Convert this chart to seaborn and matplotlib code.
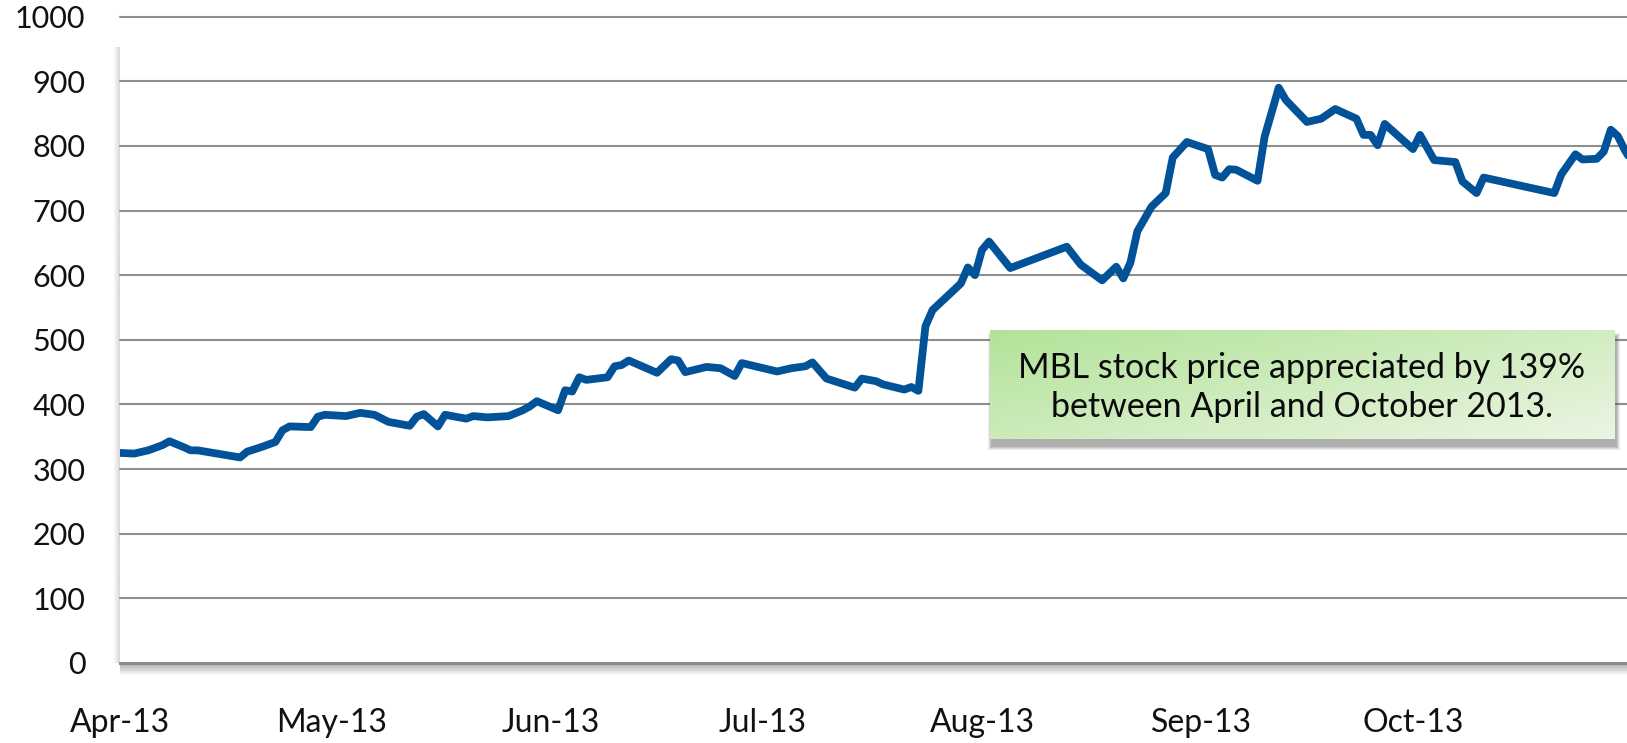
import numpy as np
import pandas as pd
import matplotlib
matplotlib.use("Agg")
import matplotlib.pyplot as plt
import seaborn as sns
from matplotlib.patches import Rectangle

# ---------------- data ----------------
dates = [
    "2013-04-01", "2013-04-03", "2013-04-05", "2013-04-07", "2013-04-08", "2013-04-10",
    "2013-04-11", "2013-04-12", "2013-04-18", "2013-04-19", "2013-04-21", "2013-04-23",
    "2013-04-24", "2013-04-25", "2013-04-28", "2013-04-29", "2013-04-30", "2013-05-03",
    "2013-05-05", "2013-05-07", "2013-05-09", "2013-05-12", "2013-05-13", "2013-05-14",
    "2013-05-16", "2013-05-17", "2013-05-20", "2013-05-21", "2013-05-23", "2013-05-26",
    "2013-05-28", "2013-05-29", "2013-05-30", "2013-06-02", "2013-06-03", "2013-06-04",
    "2013-06-05", "2013-06-06", "2013-06-09", "2013-06-10", "2013-06-11", "2013-06-12",
    "2013-06-16", "2013-06-18", "2013-06-19", "2013-06-20", "2013-06-23", "2013-06-25",
    "2013-06-27", "2013-06-28", "2013-07-03", "2013-07-05", "2013-07-07", "2013-07-08",
    "2013-07-10", "2013-07-14", "2013-07-15", "2013-07-17", "2013-07-18", "2013-07-21",
    "2013-07-22", "2013-07-23", "2013-07-24", "2013-07-25", "2013-07-29", "2013-07-30",
    "2013-07-31", "2013-08-01", "2013-08-02", "2013-08-05", "2013-08-13", "2013-08-15",
    "2013-08-18", "2013-08-20", "2013-08-21", "2013-08-22", "2013-08-23", "2013-08-25",
    "2013-08-27", "2013-08-28", "2013-08-30", "2013-09-02", "2013-09-03", "2013-09-04",
    "2013-09-05", "2013-09-06", "2013-09-09", "2013-09-10", "2013-09-12", "2013-09-13",
    "2013-09-16", "2013-09-18", "2013-09-20", "2013-09-23", "2013-09-24", "2013-09-25",
    "2013-09-26", "2013-09-27", "2013-10-01", "2013-10-02", "2013-10-04", "2013-10-07",
    "2013-10-08", "2013-10-10", "2013-10-11", "2013-10-21", "2013-10-22", "2013-10-24",
    "2013-10-25", "2013-10-27", "2013-10-28", "2013-10-29", "2013-10-30", "2013-10-31",
    "2013-11-01",
]
prices = [
    325, 324, 329, 337, 343, 334,
    329, 329, 318, 327, 334, 342,
    360, 366, 365, 381, 384, 382,
    387, 384, 373, 367, 381, 385,
    366, 384, 378, 382, 380, 382,
    391, 397, 405, 391, 422, 420,
    442, 438, 442, 459, 461, 468,
    449, 470, 468, 450, 458, 456,
    444, 464, 451, 456, 459, 465,
    440, 426, 440, 436, 431, 423,
    427, 421, 521, 546, 587, 612,
    600, 639, 652, 611, 644, 616,
    592, 613, 595, 619, 668, 706,
    727, 782, 806, 795, 755, 751,
    764, 763, 746, 814, 890, 871,
    837, 842, 857, 842, 817, 817,
    801, 834, 795, 817, 778, 775,
    745, 727, 751, 727, 756, 787,
    779, 780, 791, 825, 815, 793,
    775,
]
month_starts = ["2013-04-01", "2013-05-01", "2013-06-01", "2013-07-01",
                "2013-08-01", "2013-09-01", "2013-10-01"]
month_labels = ["Apr-13", "May-13", "Jun-13", "Jul-13", "Aug-13", "Sep-13", "Oct-13"]
y_ticks = [0, 100, 200, 300, 400, 500, 600, 700, 800, 900, 1000]
note_lines = ["MBL stock price appreciated by 139%", "between April and October 2013."]

df = pd.DataFrame({"date": pd.to_datetime(dates), "price": prices})

# ---------------- style ----------------
sns.set_style("white")
plt.rcParams["font.family"] = ["Lato", "DejaVu Sans"]

W, H = 1627, 743
fig = plt.figure(figsize=(W / 100, H / 100), dpi=100)
fig.patch.set_facecolor("white")

left_px, right_px, top_px, bottom_px = 120, 1632, 16.6, 663
ax = fig.add_axes([left_px / W, (H - bottom_px) / H,
                   (right_px - left_px) / W, (bottom_px - top_px) / H])
ax.set_facecolor("white")

# gridlines
for yv in y_ticks[1:]:
    ax.axhline(yv, color="#8e8e8e", lw=1.5, zorder=1, clip_on=False)

sns.lineplot(data=df, x="date", y="price", ax=ax, color="#015299",
             linewidth=5.6, zorder=3, solid_joinstyle="round")

ax.set_xlim(pd.Timestamp("2013-04-01"), pd.Timestamp("2013-11-01"))
ax.set_ylim(0, 1000)
ax.set_xlabel("")
ax.set_ylabel("")

ax.set_yticks(y_ticks)
ax.set_yticklabels([str(v) for v in y_ticks], fontsize=22, color="#111111")
ax.set_xticks(pd.to_datetime(month_starts))
ax.set_xticklabels(month_labels, fontsize=23, color="#111111")

ax.tick_params(axis="y", length=0, pad=25)
ax.tick_params(axis="x", direction="out", length=8.5, width=1.3,
               color="#9a9a9a", pad=24)

for s in ["top", "right", "left"]:
    ax.spines[s].set_visible(False)
ax.spines["bottom"].set_color("#8a8a8a")
ax.spines["bottom"].set_linewidth(2.2)
ax.spines["bottom"].set_zorder(4)

# shadow under the x axis
sh = fig.add_axes([left_px / W, (H - 676) / H, (right_px - left_px) / W, 12 / H], zorder=-1)
grad = np.zeros((20, 2, 4))
grad[..., :3] = 0.55
grad[..., 3] = np.linspace(0.65, 0.0, 20)[:, None]
sh.imshow(grad, aspect="auto", extent=[0, 1, 0, 1], interpolation="bilinear")
sh.axis("off")

# soft shadow on left of plot area
lsh = fig.add_axes([(left_px - 7) / W, (H - bottom_px) / H, 7 / W, (bottom_px - top_px - 30) / H], zorder=-1)
g2 = np.zeros((2, 20, 4))
g2[..., :3] = 0.6
g2[..., 3] = np.linspace(0.0, 0.45, 20)[None, :]
lsh.imshow(g2, aspect="auto", extent=[0, 1, 0, 1], interpolation="bilinear")
lsh.axis("off")

# ---------------- annotation box ----------------
bx0, bx1, by0, by1 = 990, 1614, 330, 439
# shadow
for i, a in enumerate([0.10, 0.12, 0.15, 0.2]):
    grow = 4 - i
    fig.patches.append(Rectangle(((bx0 + 2 - grow) / W, (H - by1 - 7 - grow) / H),
                                 (bx1 - bx0 + 2 * grow) / W, (by1 - by0 + 2 * grow) / H,
                                 transform=fig.transFigure, facecolor="#555555",
                                 edgecolor="none", alpha=a, zorder=5))
box = fig.add_axes([bx0 / W, (H - by1) / H, (bx1 - bx0) / W, (by1 - by0) / H], zorder=10)
nx, ny = 200, 60
xx, yy = np.meshgrid(np.linspace(0, 1, nx), np.linspace(0, 1, ny))
t = np.clip(0.55 * xx + 0.45 * yy, 0, 1)
c0 = np.array([0.70, 0.89, 0.60])
c1 = np.array([0.92, 0.96, 0.89])
img = c0[None, None, :] * (1 - t[..., None]) + c1[None, None, :] * t[..., None]
box.imshow(img, aspect="auto", extent=[0, 1, 0, 1], origin="upper", interpolation="bilinear")
box.set_xlim(0, 1)
box.set_ylim(0, 1)
box.axis("off")
box.text(0.5, 0.65, note_lines[0], ha="center", va="center", fontsize=24.5, color="#0a0a0a")
box.text(0.5, 0.29, note_lines[1], ha="center", va="center", fontsize=24.5, color="#0a0a0a")

fig.savefig("out.png", dpi=100, facecolor="white")
